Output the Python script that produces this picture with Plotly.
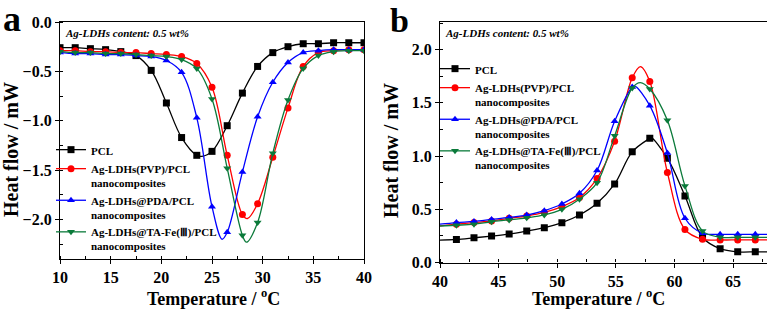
import plotly.graph_objects as go

# ---------------- Panel a data (cooling, crystallization) ----------------
a_mark_x = [10, 11.5, 13, 14.5, 16, 17.5, 19, 20.5, 22, 23.5, 25, 26.5, 28, 29.5, 31, 32.5, 34, 35.5, 37, 38.5, 40]
a_pcl = [-0.26, -0.26, -0.27, -0.28, -0.30, -0.34, -0.49, -0.82, -1.17, -1.35, -1.31, -1.05, -0.72, -0.45, -0.31, -0.25, -0.22, -0.22, -0.21, -0.21, -0.21]
a_pvp = [-0.29, -0.29, -0.30, -0.30, -0.31, -0.31, -0.32, -0.33, -0.35, -0.42, -0.66, -1.35, -1.95, -1.84, -1.37, -0.87, -0.45, -0.31, -0.29, -0.28, -0.28]
a_pda = [-0.31, -0.32, -0.32, -0.33, -0.33, -0.34, -0.35, -0.39, -0.51, -0.97, -1.87, -2.13, -1.52, -0.96, -0.61, -0.41, -0.31, -0.29, -0.28, -0.28, -0.28]
a_ta = [-0.30, -0.31, -0.31, -0.32, -0.32, -0.33, -0.34, -0.35, -0.38, -0.47, -0.78, -1.48, -2.16, -2.03, -1.33, -0.79, -0.47, -0.34, -0.30, -0.29, -0.29]
# extremum points of each curve
a_peak_x = {"pcl": 24.0, "pvp": 28.5, "pda": 26.0, "ta": 28.4}
a_peak_y = {"pcl": -1.36, "pvp": -1.99, "pda": -2.20, "ta": -2.23}

# ---------------- Panel b data (heating, melting) ----------------
b_mark_x = [41.4, 42.9, 44.4, 45.9, 47.4, 48.9, 50.4, 51.9, 53.4, 54.9, 56.4, 57.9, 59.4, 60.9, 62.4, 63.9, 65.4, 66.9]
b_start_x = 40.0
b_end_x = 67.9
b_pcl = [0.217, 0.232, 0.248, 0.267, 0.295, 0.327, 0.374, 0.446, 0.556, 0.738, 1.04, 1.168, 0.98, 0.625, 0.235, 0.13, 0.10, 0.10]
b_pvp = [0.36, 0.375, 0.39, 0.415, 0.437, 0.47, 0.525, 0.61, 0.79, 1.14, 1.735, 1.70, 0.846, 0.31, 0.218, 0.212, 0.212, 0.212]
b_pda = [0.375, 0.386, 0.405, 0.424, 0.446, 0.487, 0.55, 0.65, 0.864, 1.327, 1.65, 1.474, 1.028, 0.416, 0.275, 0.265, 0.265, 0.265]
b_ta = [0.35, 0.36, 0.383, 0.40, 0.42, 0.447, 0.50, 0.595, 0.75, 1.19, 1.64, 1.63, 1.336, 0.72, 0.297, 0.237, 0.237, 0.237]
b_start_y = {"pcl": 0.21, "pvp": 0.345, "pda": 0.36, "ta": 0.343}
b_end_y = {"pcl": 0.10, "pvp": 0.212, "pda": 0.265, "ta": 0.237}
b_peak_x = {"pcl": 58.0, "pvp": 57.1, "pda": 56.6, "ta": 57.1}
b_peak_y = {"pcl": 1.175, "pvp": 1.84, "pda": 1.66, "ta": 1.69}

names = {
    "pcl": "PCL",
    "pvp": "Ag-LDHs(PVP)/PCL<br>nanocomposites",
    "pda": "Ag-LDHs@PDA/PCL<br>nanocomposites",
    "ta": "Ag-LDHs@TA-Fe(Ⅲ)/PCL<br>nanocomposites",
}
colors = {"pcl": "#000000", "pvp": "#ff0000", "pda": "#0000ff", "ta": "#0b7a3a"}
symbols = {"pcl": "square", "pvp": "circle", "pda": "triangle-up", "ta": "triangle-down"}
keys = ["pcl", "pvp", "pda", "ta"]

W, H = 767, 311
FONT = "Liberation Serif"
LW = 1.3
MS = 7

fig = go.Figure()


def merged(xs, ys, extra):
    pts = sorted(list(zip(xs, ys)) + extra, key=lambda p: p[0])
    return [p[0] for p in pts], [p[1] for p in pts]


def add_panel(xa, ya, legend, mark_x, series, extras):
    for k in keys:
        lx, ly = merged(mark_x, series[k], extras[k])
        fig.add_trace(go.Scatter(x=lx, y=ly, mode="lines",
                                 line=dict(color=colors[k], width=LW, shape="spline", smoothing=1.0),
                                 xaxis=xa, yaxis=ya, showlegend=False, hoverinfo="skip"))
        fig.add_trace(go.Scatter(x=mark_x, y=series[k], mode="markers",
                                 marker=dict(symbol=symbols[k], size=MS, color=colors[k]),
                                 xaxis=xa, yaxis=ya, showlegend=False, name=names[k]))
        fig.add_trace(go.Scatter(x=[None], y=[None], mode="lines+markers", name=names[k],
                                 line=dict(color=colors[k], width=LW),
                                 marker=dict(symbol=symbols[k], size=MS, color=colors[k]),
                                 xaxis=xa, yaxis=ya, legend=legend))


a_series = {"pcl": a_pcl, "pvp": a_pvp, "pda": a_pda, "ta": a_ta}
b_series = {"pcl": b_pcl, "pvp": b_pvp, "pda": b_pda, "ta": b_ta}
a_extra = {k: [(a_peak_x[k], a_peak_y[k])] for k in keys}
b_extra = {k: [(b_start_x, b_start_y[k]), (b_end_x, b_end_y[k]), (b_peak_x[k], b_peak_y[k])] for k in keys}

add_panel("x", "y", "legend", a_mark_x, a_series, a_extra)
add_panel("x2", "y2", "legend2", b_mark_x, b_series, b_extra)


def px_x(p):
    return p / W


def px_y(p):
    return 1 - p / H


tickfont = dict(family=FONT, size=16, color="black", weight="bold")
minor = dict(ticks="inside", ticklen=3, tickwidth=1, tickcolor="black")
axis_common = dict(showline=True, linecolor="black", linewidth=1.3, ticks="outside", ticklen=4, tickwidth=1.2,
                   tickcolor="black", showgrid=False, zeroline=False, tickfont=tickfont, automargin=False)

fig.update_layout(
    width=W, height=H, margin=dict(l=0, r=0, t=0, b=0, autoexpand=False),
    paper_bgcolor="white", plot_bgcolor="white",
    font=dict(family=FONT, color="black"),
    xaxis=dict(axis_common, domain=[px_x(60), px_x(364)], range=[10, 40], dtick=5, mirror=True,
               anchor="y", minor=dict(minor, dtick=2.5)),
    yaxis=dict(axis_common, domain=[px_y(259), px_y(22)], range=[-2.4, 0], dtick=0.5, tickformat=".1f", mirror=True,
               anchor="x", minor=dict(minor, dtick=0.25)),
    xaxis2=dict(axis_common, domain=[px_x(440), 1], range=[40, 67.9], dtick=5, mirror=True,
                anchor="y2", minor=dict(minor, dtick=2.5)),
    yaxis2=dict(axis_common, domain=[px_y(262.5), px_y(22)], range=[0, 2.26], dtick=0.5, tickformat=".1f",
                mirror=False, anchor="x2", minor=dict(minor, dtick=0.25)),
    legend=dict(x=px_x(51), y=px_y(136), xanchor="left", yanchor="top", bgcolor="rgba(0,0,0,0)",
                font=dict(family=FONT, size=11, color="black", weight="bold"), valign="top", tracegroupgap=0,
                itemwidth=30),
    legend2=dict(x=px_x(435), y=px_y(55), xanchor="left", yanchor="top", bgcolor="rgba(0,0,0,0)",
                 font=dict(family=FONT, size=11, color="black", weight="bold"), valign="top", tracegroupgap=0,
                 itemwidth=30),
)

ann_font = dict(family=FONT, size=11, color="black")
xt_font = dict(family=FONT, size=18, color="black")
yt_font = dict(family=FONT, size=20, color="black")
annotations = [
    dict(text="<b><i>Ag-LDHs content: 0.5 wt%</i></b>", x=px_x(63), y=px_y(33), xanchor="left", yanchor="middle",
         font=ann_font),
    dict(text="<b><i>Ag-LDHs content: 0.5 wt%</i></b>", x=px_x(443), y=px_y(33), xanchor="left", yanchor="middle",
         font=ann_font),
    dict(text="<b>a</b>", x=px_x(1), y=px_y(19), xanchor="left", yanchor="middle",
         font=dict(family=FONT, size=36, color="black")),
    dict(text="<b>b</b>", x=px_x(388), y=1, xanchor="left", yanchor="top",
         font=dict(family=FONT, size=34, color="black")),
    dict(text="<b>Temperature / <sup>o</sup>C</b>", x=px_x(213), y=px_y(297), xanchor="center", yanchor="middle",
         font=xt_font),
    dict(text="<b>Temperature / <sup>o</sup>C</b>", x=px_x(598), y=px_y(297), xanchor="center", yanchor="middle",
         font=xt_font),
    dict(text="<b>Heat flow / mW</b>", x=px_x(11), y=px_y(150), xanchor="center", yanchor="middle",
         textangle=-90, font=yt_font),
    dict(text="<b>Heat flow / mW</b>", x=px_x(391), y=px_y(150), xanchor="center", yanchor="middle",
         textangle=-90, font=yt_font),
]
for a in annotations:
    a.update(xref="paper", yref="paper", showarrow=False)
fig.update_layout(annotations=annotations)

fig.write_html("out.html", config={"displayModeBar": False},
               post_script="document.body.style.margin='0';document.body.style.overflow='hidden';")
